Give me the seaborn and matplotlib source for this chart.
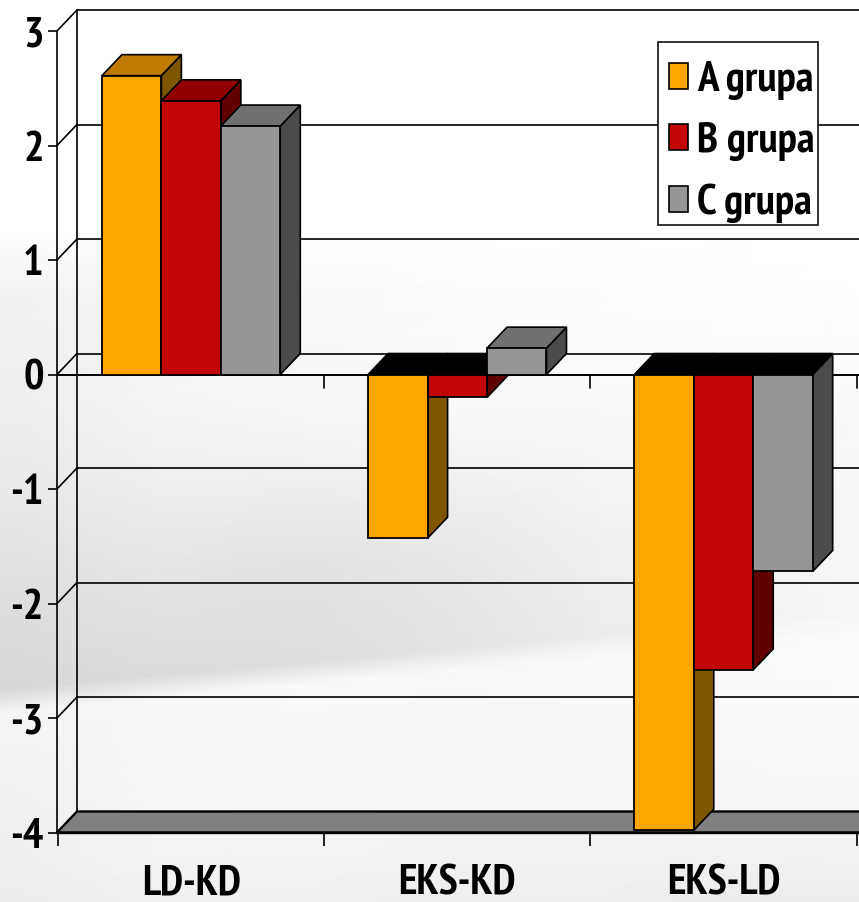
import numpy as np
import pandas as pd
import seaborn as sns
import matplotlib
matplotlib.use("Agg")
import matplotlib.pyplot as plt
from matplotlib.patches import Polygon, Rectangle
from matplotlib import font_manager

categories = ["LD-KD", "EKS-KD", "EKS-LD"]
groups = ["A grupa", "B grupa", "C grupa"]
a_values = [2.61, -1.43, -3.98]
b_values = [2.39, -0.20, -2.58]
c_values = [2.17, 0.23, -1.72]
y_ticks = [-4, -3, -2, -1, 0, 1, 2, 3]

front_colors = ["#FFA500", "#C20505", "#969696"]
side_colors = ["#805500", "#600000", "#4B4B4B"]
top_colors = ["#BF7C00", "#910000", "#707070"]

# pixel frame of the picture
W, H = 859, 902
ZERO_PX, UNIT_PX = 374.5, 114.5
CAT_PX, CAT_LEFT = 266.2, 58
DX = 20 / CAT_PX
DY = 21 / UNIT_PX


def data_x(px):
    return (px - (CAT_LEFT + CAT_PX / 2)) / CAT_PX


def data_y(py):
    return (ZERO_PX - py) / UNIT_PX


# the original looks like Arial Narrow Bold, take the closest face that is there
names = {f.name for f in font_manager.fontManager.ttflist}
font = "PT Sans Narrow" if "PT Sans Narrow" in names else "Roboto"

sns.set_theme(style="white")
plt.rcParams["font.family"] = [font, "DejaVu Sans"]
plt.rcParams["font.weight"] = "bold"
FS = 31

df = pd.DataFrame({
    "category": categories * 3,
    "group": np.repeat(groups, 3),
    "value": a_values + b_values + c_values,
})

fig = plt.figure(figsize=(W / 100, H / 100), dpi=100)
ax = fig.add_axes([0, 0, 1, 1])

# soft grey backdrop, the lower rows lean up to the right like the swoosh does
bg_x = np.array([0, 150, 300, 450, 600, 750, 859])
bg_y = np.array([0, 230, 300, 400, 500, 600, 690, 712, 800, 902])
bg_lean = np.array([0, 0, 0, 0, -0.1, -0.1, -0.09, -0.09, 0, 0])
bg_c = np.array([
    [255, 255, 255, 255, 255, 255, 255],
    [255, 255, 255, 255, 255, 255, 255],
    [240, 246, 250, 252, 253, 254, 255],
    [238, 244, 247, 250, 250, 250, 250],
    [232, 238, 240, 243, 247, 248, 250],
    [222, 228, 226, 232, 240, 245, 248],
    [216, 220, 222, 228, 236, 242, 247],
    [244, 247, 249, 249, 250, 251, 252],
    [240, 246, 248, 246, 246, 248, 248],
    [236, 240, 240, 238, 238, 236, 236],
])
bg_xx, bg_yy = np.meshgrid(bg_x, bg_y)
bg_yy = bg_yy + bg_lean[:, None] * bg_xx
ax.pcolormesh(data_x(bg_xx), data_y(bg_yy), bg_c, shading="gouraud",
              cmap="gray", vmin=0, vmax=255, zorder=0)

sns.barplot(data=df, x="category", y="value", hue="group", order=categories, hue_order=groups,
            palette=front_colors, width=0.67, gap=0, edgecolor="black", linewidth=1.3,
            saturation=1, errorbar=None, legend=False, ax=ax)

x_front, x_back = data_x(57), data_x(77)
x_end = data_x(W + 5)
line = dict(color="black", lw=1.2, zorder=1)

# back wall, side wall
for t in y_ticks:
    if t == -4:
        continue
    ax.plot([x_back, x_end], [t + DY, t + DY], **line)
    ax.plot([x_front, x_back], [t, t + DY], **line)
ax.plot([x_back, x_back], [-4 + DY, 3 + DY], **line)

# floor
ax.add_patch(Polygon([(x_front, -4), (x_back, -4 + DY), (x_end, -4 + DY), (x_end, -4)],
                     facecolor="#808080", edgecolor="black", lw=1.7, zorder=1.5))

# zero plane front line + its ticks
ax.plot([x_front, x_end], [0, 0], color="black", lw=1.4, zorder=2)
for i in range(1, 4):
    ax.plot([data_x(CAT_LEFT + i * CAT_PX)] * 2, [0, -13 / UNIT_PX], **line)

# fake 3d: side and top faces for each bar
z = 3
for cont, side, top in zip(ax.containers, side_colors, top_colors):
    for bar in cont:
        x0 = bar.get_x()
        x1 = x0 + bar.get_width()
        y0 = bar.get_y()
        y1 = y0 + bar.get_height()
        hi, lo = max(y0, y1), min(y0, y1)
        top_color = top if hi > 0 else "black"
        ax.add_patch(Polygon([(x1, lo), (x1 + DX, lo + DY), (x1 + DX, hi + DY), (x1, hi)],
                             facecolor=side, edgecolor="black", lw=1.2, zorder=z))
        ax.add_patch(Polygon([(x0, hi), (x0 + DX, hi + DY), (x1 + DX, hi + DY), (x1, hi)],
                             facecolor=top_color, edgecolor="black", lw=1.2, zorder=z))
        bar.set_zorder(z + 0.5)
    z += 1

ax.set_xlim(data_x(0), data_x(W))
ax.set_ylim(data_y(H), data_y(0))
ax.set_xlabel("")
ax.set_ylabel("")

for s in ["top", "right"]:
    ax.spines[s].set_visible(False)
ax.spines["left"].set_position(("data", x_front))
ax.spines["left"].set_bounds(-4, 3)
ax.spines["bottom"].set_position(("data", -4))
ax.spines["bottom"].set_bounds(x_front, x_end)
ax.spines["left"].set_linewidth(1.2)
ax.spines["bottom"].set_linewidth(1.7)
ax.spines["left"].set_color("black")
ax.spines["bottom"].set_color("black")
ax.spines["left"].set_zorder(2)
ax.spines["bottom"].set_zorder(2)

ax.set_yticks(y_ticks)
ax.set_yticklabels([str(t) for t in y_ticks])
ax.tick_params(axis="y", left=True, length=6.5, width=1.2, color="black", pad=3, labelsize=FS, labelcolor="black")
ax.set_xticks(range(3))
ax.set_xticklabels(categories)
ax.set_xticks([data_x(CAT_LEFT + i * CAT_PX) for i in range(4)], minor=True)
ax.tick_params(axis="x", which="major", bottom=False, pad=17, labelsize=FS, labelcolor="black")
ax.tick_params(axis="x", which="minor", bottom=True, length=9, width=1.2, color="black")

# legend box is drawn on its own so the padding can differ per side
ax.add_patch(Rectangle((658 / W, 1 - 225 / H), 160 / W, 183 / H, transform=ax.transAxes,
                       facecolor="white", edgecolor="#222222", lw=1.3, zorder=19))
handles = [plt.Rectangle((0, 0), 1, 1, facecolor=c, edgecolor="black", lw=1.2) for c in front_colors]
leg = ax.legend(handles, groups, loc="upper left",
                bbox_to_anchor=(669 / W, 1 - 61 / H), bbox_transform=ax.transAxes,
                fontsize=FS, frameon=False, labelcolor="black", borderpad=0, labelspacing=0.52,
                handlelength=0.43, handleheight=0.56, handletextpad=0.22, borderaxespad=0)
leg.set_zorder(20)

fig.savefig("out.png", dpi=100)
